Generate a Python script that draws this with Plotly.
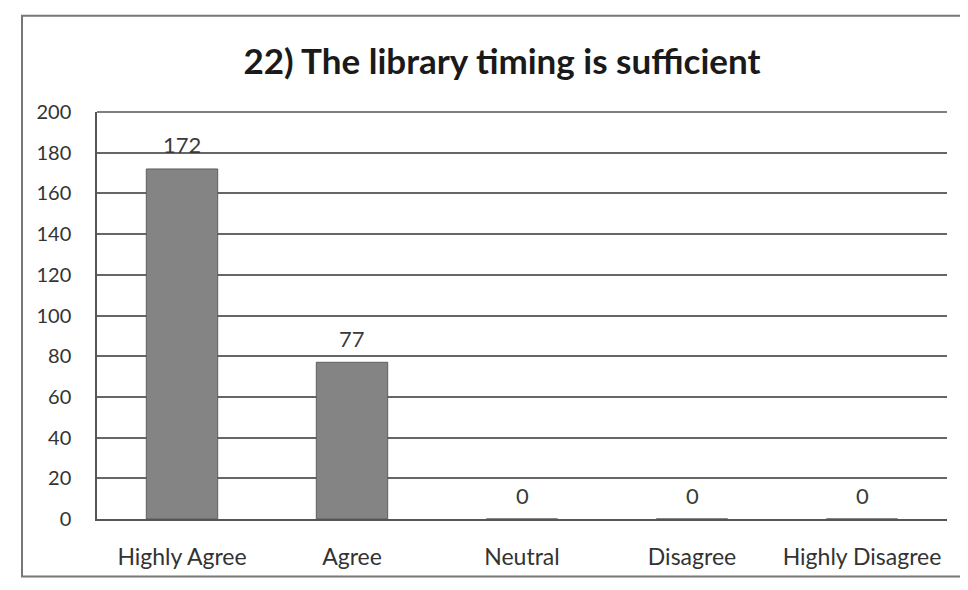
import plotly.graph_objects as go

categories = ["Highly Agree", "Agree", "Neutral", "Disagree", "Highly Disagree"]
values = [172, 77, 0, 0, 0]
y_ticks = [0, 20, 40, 60, 80, 100, 120, 140, 160, 180, 200]
title_text = "22) The library timing is sufficient"

OFF = 8  # page body margin
W, H = 968 - 2 * OFF, 590 - 2 * OFF
# target plot-area pixel positions in the screenshot
PL, PR, PT, PB = 97, 947, 112, 522
L, T = PL - OFF, PT - OFF
R = W - (PR - OFF)
B = H - (PB - OFF)
pw, ph = W - L - R, H - T - B

def px_to_paper_x(px):
    return (px - OFF - L) / pw

def px_to_paper_y(py):
    return (PB - py) / ph

FONT = "Lato, Open Sans, sans-serif"

fig = go.Figure()
fig.add_trace(go.Bar(
    x=categories, y=values,
    marker=dict(color="#848484", line=dict(color="#5e5e5e", width=1)),
    width=0.42,
    cliponaxis=False,
))

annotations = [
    dict(x=c, y=v, xref="x", yref="y", text=str(v), showarrow=False,
         yanchor="middle", yshift=24,
         font=dict(family=FONT, size=22, color="#3a3a3a"))
    for c, v in zip(categories, values)
]

fig.update_layout(
    width=W, height=H,
    margin=dict(l=L, r=R, t=T, b=B),
    paper_bgcolor="white", plot_bgcolor="white",
    showlegend=False,
    annotations=annotations,
    title=dict(text="<b>" + title_text + "</b>", x=px_to_paper_x(502), xref="paper", xanchor="center",
               y=1 - (62 - OFF) / H, yanchor="middle",
               font=dict(family=FONT, size=35, color="#1a1a1a")),
    xaxis=dict(showgrid=False, showline=True, linecolor="#555", linewidth=1.5,
               ticks="", tickfont=dict(family=FONT, size=23, color="#333"),
               ticklabelstandoff=17),
    yaxis=dict(range=[0, 200], tickvals=y_ticks, showgrid=True, gridcolor="#666", gridwidth=1.5,
               showline=True, linecolor="#555", linewidth=1.5, zeroline=False,
               ticks="", tickfont=dict(family=FONT, size=20, color="#333"),
               ticklabelstandoff=20),
    shapes=[dict(type="rect", xref="paper", yref="paper",
                 x0=px_to_paper_x(22), x1=px_to_paper_x(985),
                 y0=px_to_paper_y(580), y1=px_to_paper_y(15),
                 line=dict(color="#777", width=2), fillcolor="rgba(0,0,0,0)", layer="below"),
            dict(type="line", xref="paper", yref="paper", x0=0, x1=1, y0=1, y1=1,
                 line=dict(color="#555", width=1.5))],
)

fig.write_html("out.html")
